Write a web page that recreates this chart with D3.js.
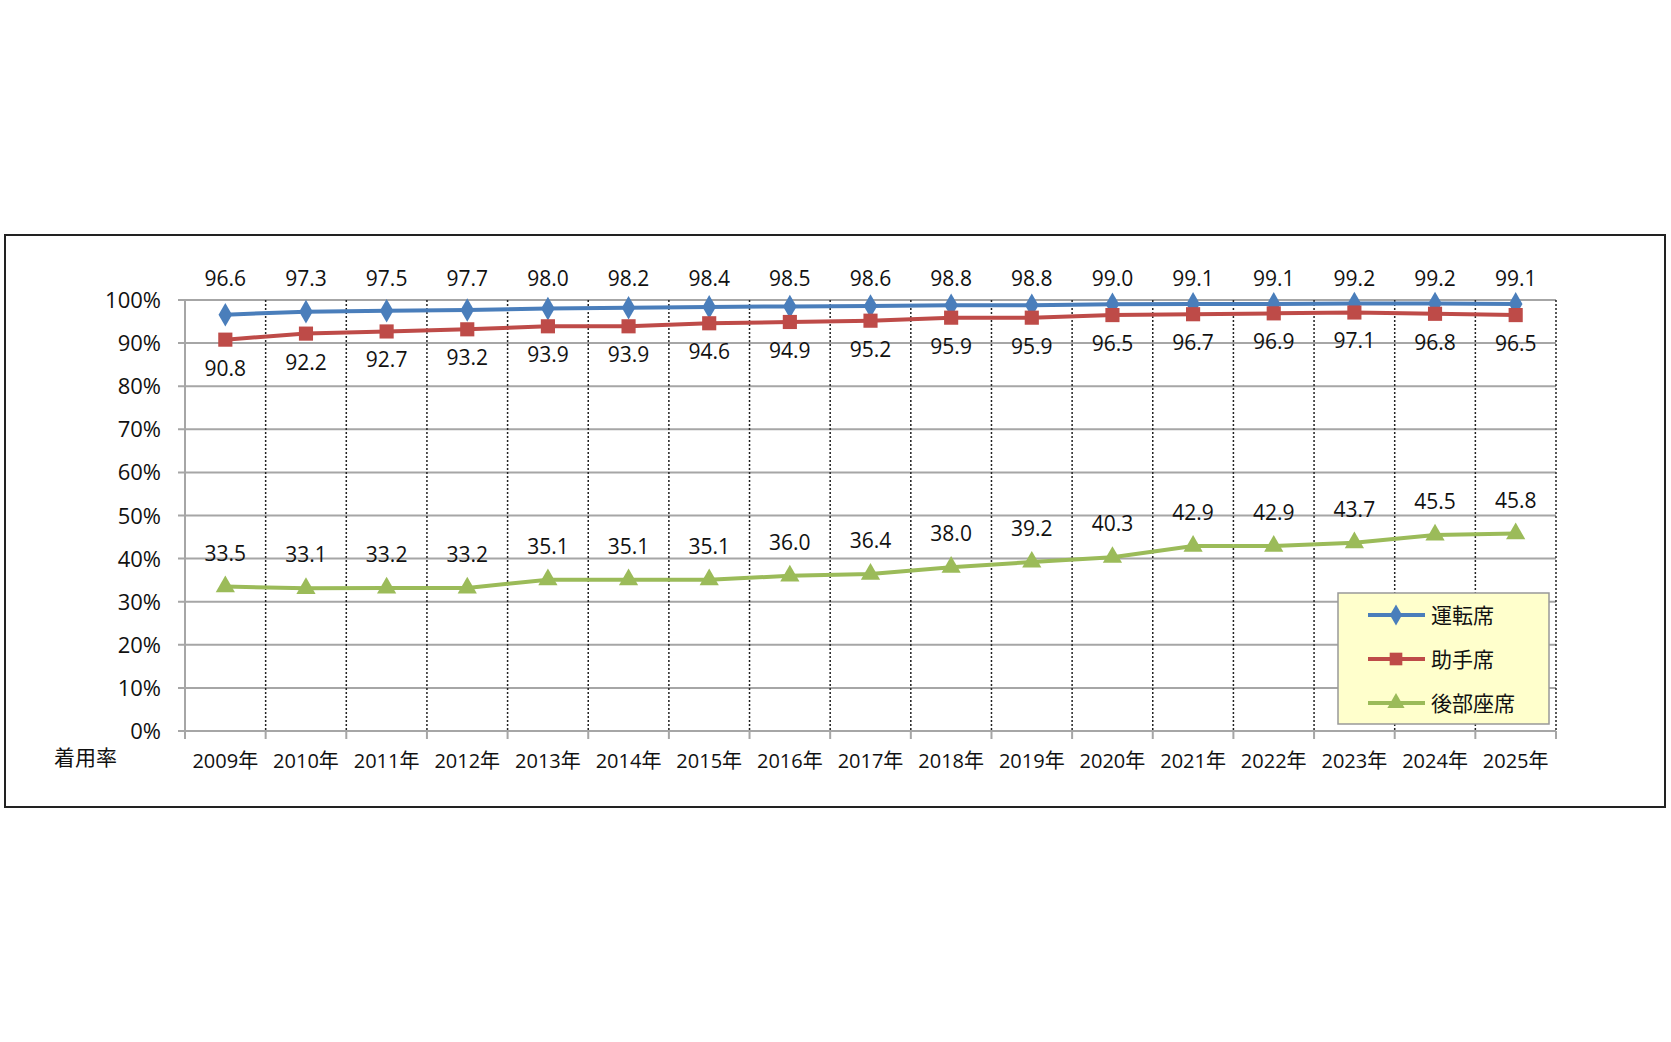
<!DOCTYPE html>
<html><head><meta charset="utf-8">
<script src="https://cdn.jsdelivr.net/npm/d3@7"></script>
<style>body{margin:0;background:#fff}svg text{font-family:"Open Sans","Noto Sans CJK JP",sans-serif;fill:#111}</style>
</head><body><svg id="c" width="1671" height="1042"></svg>
<script>
var years = ["2009年","2010年","2011年","2012年","2013年","2014年","2015年","2016年","2017年","2018年","2019年","2020年","2021年","2022年","2023年","2024年","2025年"]
var driver = [96.6,97.3,97.5,97.7,98.0,98.2,98.4,98.5,98.6,98.8,98.8,99.0,99.1,99.1,99.2,99.2,99.1]
var passenger = [90.8,92.2,92.7,93.2,93.9,93.9,94.6,94.9,95.2,95.9,95.9,96.5,96.7,96.9,97.1,96.8,96.5]
var rear = [33.5,33.1,33.2,33.2,35.1,35.1,35.1,36.0,36.4,38.0,39.2,40.3,42.9,42.9,43.7,45.5,45.8]
var yTicks = [0,10,20,30,40,50,60,70,80,90,100]

var svg = d3.select("#c")
svg.append("rect").attr("x",5).attr("y",235).attr("width",1660).attr("height",572)
  .attr("fill","#fff").attr("stroke","#222").attr("stroke-width",2)

var x = d3.scaleBand().domain(years).range([185,1556])
var y = d3.scaleLinear().domain([0,100]).range([731,300])
var cx = function(d,i){ return x(years[i]) + x.bandwidth()/2 }

// horizontal grid
svg.selectAll(".hg").data(yTicks).enter().append("line")
  .attr("x1",178).attr("x2",1556).attr("y1",y).attr("y2",y)
  .attr("stroke","#a6a6a6").attr("stroke-width",2)
// dotted vertical boundaries
svg.selectAll(".vg").data(d3.range(1,18)).enter().append("line")
  .attr("x1",function(i){ return 185 + x.step()*i }).attr("x2",function(i){ return 185 + x.step()*i })
  .attr("y1",300).attr("y2",731).attr("stroke","#222").attr("stroke-width",1.5).attr("stroke-dasharray","2,2")
// axis lines and ticks
svg.append("line").attr("x1",185).attr("x2",185).attr("y1",300).attr("y2",731).attr("stroke","#a6a6a6").attr("stroke-width",2)
svg.selectAll(".xt").data(d3.range(18)).enter().append("line")
  .attr("x1",function(i){ return 185 + x.step()*i }).attr("x2",function(i){ return 185 + x.step()*i })
  .attr("y1",731).attr("y2",739).attr("stroke","#a6a6a6").attr("stroke-width",2)

svg.selectAll(".yl").data(yTicks).enter().append("text")
  .attr("x",161).attr("y",function(d){ return y(d)+8 }).attr("text-anchor","end")
  .attr("font-size",22).text(function(d){ return d+"%" })
svg.selectAll(".xl").data(years).enter().append("text")
  .attr("x",function(d){ return x(d)+x.bandwidth()/2 }).attr("y",768).attr("text-anchor","middle")
  .attr("font-size",20).text(function(d){ return d })
svg.append("text").attr("x",54).attr("y",765).attr("font-size",21).text("着用率")

var series = [
  {name:"運転席", data:driver, color:"#4a7ebb", shape:d3.symbolDiamond, size:160, off:-30},
  {name:"助手席", data:passenger, color:"#be4b48", shape:d3.symbolSquare, size:200, off:36},
  {name:"後部座席", data:rear, color:"#9bbb59", shape:d3.symbolTriangle, size:160, off:-26}
]
series.forEach(function(s){
  svg.append("path").datum(s.data)
    .attr("d", d3.line().x(cx).y(function(d){ return y(d) }))
    .attr("fill","none").attr("stroke",s.color).attr("stroke-width",4)
  svg.selectAll(null).data(s.data).enter().append("path")
    .attr("transform",function(d,i){ return "translate("+cx(d,i)+","+y(d)+")" })
    .attr("d", d3.symbol().type(s.shape).size(s.size)).attr("fill",s.color)
  svg.selectAll(null).data(s.data).enter().append("text")
    .attr("x",cx).attr("y",function(d){ return s===series[0] ? 286 : y(d)+s.off })
    .attr("text-anchor","middle").attr("font-size",21).text(function(d){ return d.toFixed(1) })
})

// legend
var lg = svg.append("g")
lg.append("rect").attr("x",1338).attr("y",593).attr("width",211).attr("height",131)
  .attr("fill","#ffffcc").attr("stroke","#999").attr("stroke-width",1.5)
series.forEach(function(s,i){
  var ly = 615 + i*44
  lg.append("line").attr("x1",1368).attr("x2",1425).attr("y1",ly).attr("y2",ly).attr("stroke",s.color).attr("stroke-width",4)
  lg.append("path").attr("transform","translate(1396,"+ly+")").attr("d",d3.symbol().type(s.shape).size(s.size*0.8)).attr("fill",s.color)
  lg.append("text").attr("x",1431).attr("y",ly+8).attr("font-size",21).text(s.name)
})
</script></body></html>
